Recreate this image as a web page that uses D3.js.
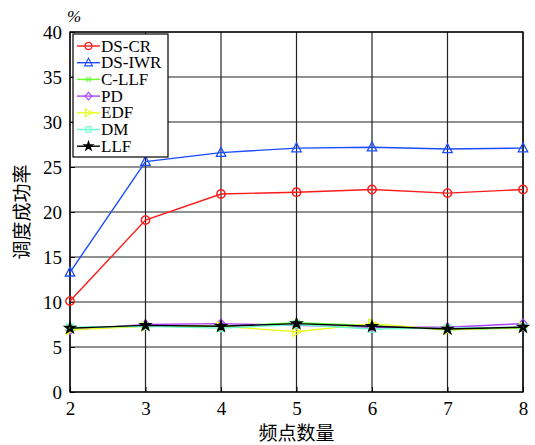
<!DOCTYPE html>
<html lang="zh">
<head>
<meta charset="utf-8">
<script src="https://d3js.org/d3.v7.min.js"></script>
<style>
  body { margin: 0; background: #fff; }
  text { font-family: "Liberation Serif", "DejaVu Serif", serif; }
  .cjk { font-family: "Noto Sans CJK SC", sans-serif; }
</style>
</head>
<body>
<script>
// data
var freqs = [2, 3, 4, 5, 6, 7, 8];
var yTicks = [0, 5, 10, 15, 20, 25, 30, 35, 40];
var seriesNames = ["DS-CR", "DS-IWR", "C-LLF", "PD", "EDF", "DM", "LLF"];
var dsCR  = [10.1, 19.1, 22.0, 22.2, 22.5, 22.1, 22.5];
var dsIWR = [13.3, 25.6, 26.6, 27.1, 27.2, 27.0, 27.1];
var cLLF  = [7.0, 7.4, 7.3, 7.7, 7.4, 6.9, 7.1];
var pd    = [6.9, 7.5, 7.6, 7.4, 7.2, 7.2, 7.6];
var edf   = [6.9, 7.3, 7.3, 6.7, 7.6, 6.9, 7.2];
var dm    = [7.2, 7.3, 7.1, 7.5, 7.0, 7.1, 7.2];
var llf   = [7.1, 7.4, 7.3, 7.6, 7.3, 7.0, 7.2];

var allValues = [dsCR, dsIWR, cLLF, pd, edf, dm, llf];
var colors = ["#ff1a1a", "#1a4dff", "#66ff33", "#aa44ff", "#e6ff1a", "#66ffcc", "#000000"];
var markers = ["circle", "triangle", "cross", "diamond", "right", "square", "star"];

var width = 535, height = 445;
var margin = {left: 70, right: 12, top: 32, bottom: 53};

var svg = d3.select("body").append("svg")
  .attr("width", width)
  .attr("height", height);

var x = d3.scaleLinear().domain([2, 8]).range([margin.left, width - margin.right]);
var y = d3.scaleLinear().domain([0, 40]).range([height - margin.bottom, margin.top]);

// grid
svg.append("g").selectAll("line").data(freqs).enter().append("line")
  .attr("x1", d => x(d)).attr("x2", d => x(d))
  .attr("y1", y(0)).attr("y2", y(40))
  .attr("stroke", "#222").attr("stroke-width", 1.2);
svg.append("g").selectAll("line").data(yTicks).enter().append("line")
  .attr("x1", x(2)).attr("x2", x(8))
  .attr("y1", d => y(d)).attr("y2", d => y(d))
  .attr("stroke", "#222").attr("stroke-width", 1.2);

// axes
var xAxis = svg.append("g")
  .attr("transform", "translate(0," + y(0) + ")")
  .call(d3.axisBottom(x).tickValues(freqs).tickFormat(d3.format("d")).tickSizeInner(-5).tickSizeOuter(0).tickPadding(10));
var yAxis = svg.append("g")
  .attr("transform", "translate(" + x(2) + ",0)")
  .call(d3.axisLeft(y).tickValues(yTicks).tickSizeInner(-5).tickSizeOuter(0).tickPadding(8));
[xAxis, yAxis].forEach(function(a) {
  a.select(".domain").remove();
  a.selectAll("text").style("font-family", "Liberation Serif, serif").style("font-size", "19px").attr("fill", "#000");
  a.selectAll("line").attr("stroke", "#000");
});

// frame
svg.append("rect")
  .attr("x", x(2)).attr("y", y(40))
  .attr("width", x(8) - x(2)).attr("height", y(0) - y(40))
  .attr("fill", "none").attr("stroke", "#000").attr("stroke-width", 1.3);

function drawMarker(g, type, color) {
  var s = 4.2;
  if (type == "circle") {
    g.append("circle").attr("r", s).attr("fill", "none").attr("stroke", color).attr("stroke-width", 1.4);
  } else if (type == "triangle") {
    g.append("path").attr("d", "M0," + (-s - 1) + "L" + (s + 0.5) + "," + (s - 0.5) + "L" + (-s - 0.5) + "," + (s - 0.5) + "Z")
      .attr("fill", "none").attr("stroke", color).attr("stroke-width", 1.3);
  } else if (type == "cross") {
    g.append("path").attr("d", "M-3,-3L3,3M-3,3L3,-3").attr("stroke", color).attr("stroke-width", 1.4);
  } else if (type == "diamond") {
    g.append("path").attr("d", "M0,-4.5L4,0L0,4.5L-4,0Z").attr("fill", "none").attr("stroke", color).attr("stroke-width", 1.3);
  } else if (type == "right") {
    g.append("path").attr("d", "M4.5,0L-3.5,-4.5L-3.5,4.5Z").attr("fill", "none").attr("stroke", color).attr("stroke-width", 1.3);
  } else if (type == "square") {
    g.append("rect").attr("x", -3.2).attr("y", -3.2).attr("width", 6.4).attr("height", 6.4)
      .attr("fill", "none").attr("stroke", color).attr("stroke-width", 1.3);
  } else if (type == "star") {
    g.append("path").attr("d", d3.symbol().type(d3.symbolStar).size(22)())
      .attr("fill", "none").attr("stroke", color).attr("stroke-width", 2);
  }
}

var line = d3.line().x((d, i) => x(freqs[i])).y(d => y(d));

allValues.forEach(function(vals, k) {
  var g = svg.append("g");
  g.append("path").datum(vals)
    .attr("d", line)
    .attr("fill", "none")
    .attr("stroke", colors[k])
    .attr("stroke-width", 1.4);
  vals.forEach(function(v, i) {
    var m = g.append("g").attr("transform", "translate(" + x(freqs[i]) + "," + y(v) + ")");
    drawMarker(m, markers[k], colors[k]);
  });
});

// legend
var lg = svg.append("g").attr("transform", "translate(" + (x(2) + 3) + "," + (y(40) + 2) + ")");
lg.append("rect").attr("width", 95).attr("height", 123)
  .attr("fill", "#fff").attr("stroke", "#000").attr("stroke-width", 1.2);
seriesNames.forEach(function(name, k) {
  var yy = 12 + k * 16.7;
  lg.append("line").attr("x1", 4).attr("x2", 27).attr("y1", yy).attr("y2", yy)
    .attr("stroke", colors[k]).attr("stroke-width", 1.4);
  drawMarker(lg.append("g").attr("transform", "translate(15.5," + yy + ") scale(0.85)"), markers[k], colors[k]);
  lg.append("text").attr("x", 28).attr("y", yy + 5.5)
    .style("font-size", "17px").attr("fill", "#000").text(name);
});

// labels
svg.append("text").attr("x", x(2) - 3).attr("y", 22)
  .style("font-size", "17px").style("font-style", "italic").text("%");
svg.append("text").attr("class", "cjk")
  .attr("x", (x(2) + x(8)) / 2).attr("y", 440)
  .attr("text-anchor", "middle").style("font-size", "19px").text("频点数量");
svg.append("text").attr("class", "cjk")
  .attr("transform", "translate(29," + ((y(0) + y(40)) / 2) + ") rotate(-90)")
  .attr("text-anchor", "middle").style("font-size", "19px").text("调度成功率");
</script>
</body>
</html>
